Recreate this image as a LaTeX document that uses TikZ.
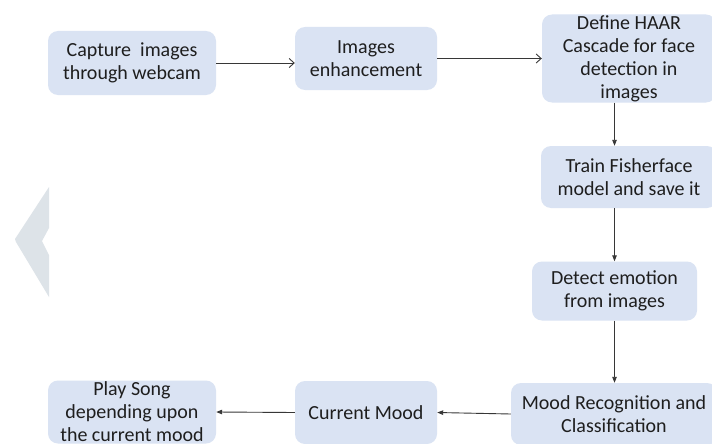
\documentclass[tikz,border=0pt]{standalone}
\usepackage{fontspec}
\setmainfont{Carlito}
\usetikzlibrary{arrows.meta}
\definecolor{boxfill}{RGB}{218,227,243}
\definecolor{chev}{RGB}{221,227,232}
\definecolor{txt}{RGB}{30,30,30}
\definecolor{lnc}{RGB}{55,55,55}
\tikzset{
  stepbox/.style={draw=none, fill=boxfill, rounded corners=10pt, inner sep=0pt},
  lbl/.style={align=center, text=txt, font=\fontsize{20}{23}\selectfont, inner sep=0pt},
  openarr/.style={draw=lnc, line width=0.9pt, -{Straight Barb[length=5pt,width=9pt]}},
  fillarr/.style={draw=lnc, line width=0.9pt, -{Triangle[length=6pt,width=4.5pt]}}
}
\begin{document}
\begin{tikzpicture}[x=1pt,y=-1pt]
\useasboundingbox (0,0) rectangle (712,444);
\clip (0,0) rectangle (712,444);
\fill[white] (0,0) rectangle (712,444);
% watermark chevron
\fill[chev] (49,187) -- (15,239) -- (16,242) -- (49,297) -- (49,255) -- (42,241) -- (49,228) -- cycle;
% boxes
\node[stepbox, minimum width=168pt, minimum height=64pt, label={[lbl]center:Capture\ \ images\\through webcam}] (cap) at (132,63) {};
\node[stepbox, minimum width=142pt, minimum height=63pt, label={[lbl]center:Images\\enhancement}] (enh) at (366,58.5) {};
\node[stepbox, minimum width=174pt, minimum height=88pt, label={[lbl]center:Define HAAR\\Cascade for face\\detection in\\images}] (haar) at (629,58.5) {};
\node[stepbox, minimum width=176pt, minimum height=62pt, label={[lbl]center:Train Fisherface\\model and save it}] (train) at (629,177) {};
\node[stepbox, minimum width=165pt, minimum height=59pt, label={[lbl]center:Detect emotion\\from images}] (detect) at (614.5,291) {};
\node[stepbox, minimum width=206pt, minimum height=62pt, label={[lbl]center:Mood Recognition and\\Classification}] (mood) at (614,414) {};
\node[stepbox, minimum width=142pt, minimum height=63pt, label={[lbl]center:Current Mood}] (cur) at (366,412.5) {};
\node[stepbox, minimum width=168pt, minimum height=63pt, label={[lbl]center:Play Song\\depending upon\\the current mood}] (play) at (132,412) {};
% connectors
\draw[openarr] (cap.east) -- (cap.east -| enh.west);
\draw[openarr] (enh.east) -- (enh.east -| haar.west);
\draw[fillarr] (haar.south -| detect.center) -- (train.north -| detect.center);
\draw[fillarr] (train.south -| detect.center) -- (detect.north);
\draw[fillarr] (detect.south) -- (mood.north -| detect.center);
\draw[fillarr] (mood.west) -- (cur.east);
\draw[fillarr] (cur.west) -- (play.east);
\end{tikzpicture}
\end{document}
